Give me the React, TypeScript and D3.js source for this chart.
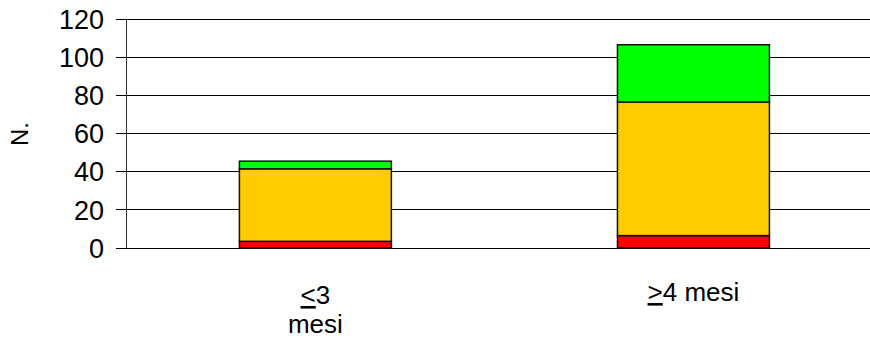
import React from "react";
import * as d3 from "d3";

const categories = ["le3", "ge4"];
const redValues = [3.5, 6.5];
const orangeValues = [38, 70];
const greenValues = [4, 30];
const yTicks = [0, 20, 40, 60, 80, 100, 120];
const seriesKeys = ["red", "orange", "green"];
const seriesColors = ["#FF0000", "#FFCC00", "#00FF00"];

const W = 870;
const H = 339;
const margin = { left: 126, right: 0, top: 19, bottom: 91 };
const FONT = "'Liberation Sans', Arial, sans-serif";

export default function App() {
  const x = d3
    .scaleBand<string>()
    .domain(categories)
    .range([margin.left, W - margin.right])
    .paddingInner(0.598)
    .paddingOuter(0.283)
    .align(0.53);
  const y = d3.scaleLinear().domain([0, 120]).range([H - margin.bottom, margin.top]);

  const rows = categories.map((c, i) => ({
    cat: c,
    red: redValues[i],
    orange: orangeValues[i],
    green: greenValues[i],
  }));
  const stack = d3.stack<any>().keys(seriesKeys)(rows);
  const cx = (i: number) => (x(categories[i]) as number) + x.bandwidth() / 2;

  return (
    <svg
      width={W}
      height={H}
      style={{ position: "absolute", left: 0, top: 0, background: "#fff" }}
      fontFamily={FONT}
    >
      {yTicks.map((t) => (
        <line
          key={"g" + t}
          x1={margin.left}
          x2={W}
          y1={y(t)}
          y2={y(t)}
          stroke="#000"
          strokeWidth={1}
          shapeRendering="crispEdges"
        />
      ))}
      <line
        x1={margin.left}
        x2={margin.left}
        y1={y(120)}
        y2={y(0)}
        stroke="#333"
        strokeWidth={1}
        shapeRendering="crispEdges"
      />
      {yTicks.map((t) => (
        <g key={"t" + t}>
          <line
            x1={margin.left - 10}
            x2={margin.left}
            y1={y(t)}
            y2={y(t)}
            stroke="#000"
            shapeRendering="crispEdges"
          />
          <text
            x={margin.left - 22}
            y={y(t)}
            dy="0.36em"
            textAnchor="end"
            fontSize={27}
            fill="#000"
          >
            {t}
          </text>
        </g>
      ))}
      <text
        transform={`translate(28,134) rotate(-90)`}
        textAnchor="middle"
        fontSize={24}
        fill="#000"
      >
        N.
      </text>
      {stack.map((s, si) =>
        s.map((d, i) => (
          <rect
            key={si + "-" + i}
            x={x(categories[i])}
            width={x.bandwidth()}
            y={y(d[1])}
            height={y(d[0]) - y(d[1])}
            fill={seriesColors[si]}
            stroke="#111"
            strokeWidth={1.5}
          />
        ))
      )}
      <text x={cx(0)} y={304} textAnchor="middle" fontSize={26} fill="#000">
        <tspan style={{ textDecoration: "underline" }}>{"<"}</tspan>
        <tspan>3</tspan>
      </text>
      <text x={cx(0)} y={333} textAnchor="middle" fontSize={26} fill="#000">
        mesi
      </text>
      <text x={cx(1)} y={301} textAnchor="middle" fontSize={26} fill="#000">
        <tspan style={{ textDecoration: "underline" }}>{">"}</tspan>
        <tspan>4 mesi</tspan>
      </text>
    </svg>
  );
}
